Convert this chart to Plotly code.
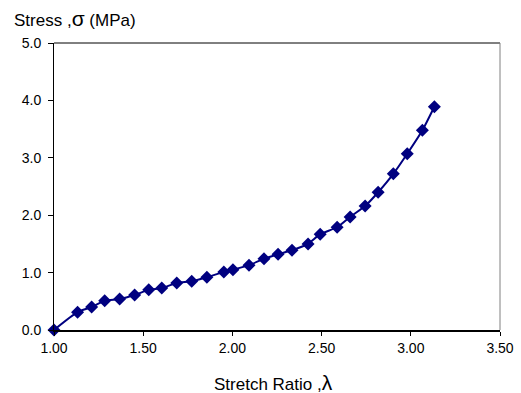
import plotly.graph_objects as go

stretch_ratio = [1.000, 1.132, 1.211, 1.284, 1.368, 1.452, 1.531, 1.604, 1.688, 1.772,
                 1.857, 1.952, 2.003, 2.093, 2.177, 2.256, 2.334, 2.424, 2.492, 2.587,
                 2.660, 2.744, 2.817, 2.902, 2.980, 3.065, 3.132]
stress_mpa = [0.00, 0.31, 0.40, 0.51, 0.54, 0.61, 0.70, 0.73, 0.82, 0.85,
              0.92, 1.01, 1.05, 1.13, 1.24, 1.32, 1.39, 1.50, 1.67, 1.79,
              1.97, 2.16, 2.40, 2.72, 3.07, 3.48, 3.89]

x_ticks = [1.0, 1.5, 2.0, 2.5, 3.0, 3.5]
y_ticks = [0.0, 1.0, 2.0, 3.0, 4.0, 5.0]

navy = "#000080"
font_family = "Liberation Sans, Arial, sans-serif"

fig = go.Figure()
fig.add_trace(go.Scatter(
    x=stretch_ratio, y=stress_mpa, mode="lines+markers",
    line=dict(color=navy, width=2, shape="spline", smoothing=0.6),
    marker=dict(symbol="diamond", size=10, color=navy),
    cliponaxis=False, showlegend=False,
))

fig.update_layout(
    width=521, height=393,
    margin=dict(l=54, r=21, t=43, b=63, autoexpand=False),
    paper_bgcolor="white", plot_bgcolor="white",
    font=dict(family=font_family, size=14, color="black"),
    xaxis=dict(
        range=[1.0, 3.5], tickvals=x_ticks, tickformat=".2f",
        showgrid=False, zeroline=False, automargin=False,
        showline=True, linecolor="black", linewidth=2,
        ticks="outside", ticklen=4, tickcolor="black", tickwidth=1,
        tickfont=dict(size=14),
    ),
    yaxis=dict(
        range=[0.0, 5.0], tickvals=y_ticks, tickformat=".1f",
        showgrid=False, zeroline=False, automargin=False,
        showline=True, linecolor="black", linewidth=1,
        ticks="outside", ticklen=5, tickcolor="black", tickwidth=1,
        ticklabelstandoff=4,
        tickfont=dict(size=14),
    ),
    shapes=[
        dict(type="line", xref="paper", yref="paper", x0=0, x1=1, y0=1, y1=1,
             line=dict(color="black", width=1)),
        dict(type="line", xref="paper", yref="paper", x0=1, x1=1, y0=0, y1=1,
             line=dict(color="#808080", width=1)),
    ],
    annotations=[
        dict(text="Stress ,<span style='font-size:21px'>σ</span> (MPa)",
             xref="paper", yref="paper",
             x=-0.094, y=1.0, xanchor="left", yanchor="bottom", yshift=11,
             showarrow=False, font=dict(size=17)),
        dict(text="Stretch Ratio ,<span style='font-size:21px'>λ</span>",
             xref="paper", yref="paper",
             x=0.5, y=0, xanchor="center", yanchor="top", yshift=-39, xshift=-4,
             showarrow=False, font=dict(size=17)),
    ],
)

fig.write_html("out.html")
